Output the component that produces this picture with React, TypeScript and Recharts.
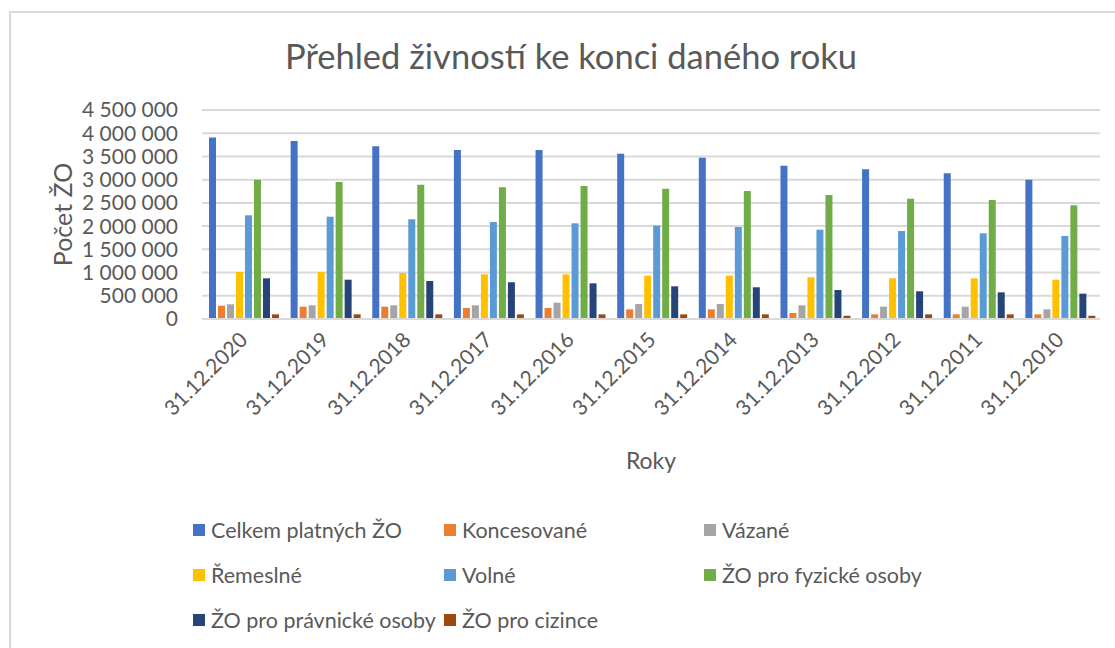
import { BarChart, Bar, XAxis, YAxis, CartesianGrid, Legend } from "recharts"

document.body.style.margin = "0"

const categories = [
  "31.12.2020", "31.12.2019", "31.12.2018", "31.12.2017", "31.12.2016", "31.12.2015",
  "31.12.2014", "31.12.2013", "31.12.2012", "31.12.2011", "31.12.2010",
]
const celkem = [3910000, 3833000, 3718000, 3639000, 3639000, 3560000, 3473000, 3301000, 3223000, 3137000, 3000000]
const koncesovane = [286000, 265000, 265000, 237000, 237000, 208000, 208000, 129000, 100000, 100000, 100000]
const vazane = [316000, 295000, 295000, 295000, 351000, 323000, 323000, 295000, 265000, 265000, 208000]
const remeslne = [1012000, 1012000, 990000, 962000, 962000, 933000, 933000, 898000, 876000, 876000, 846000]
const volne = [2233000, 2203000, 2147000, 2089000, 2060000, 2010000, 1981000, 1923000, 1895000, 1845000, 1787000]
const fyzicke = [3000000, 2950000, 2892000, 2836000, 2864000, 2806000, 2756000, 2670000, 2590000, 2562000, 2448000]
const pravnicke = [876000, 846000, 818000, 790000, 768000, 704000, 683000, 624000, 596000, 574000, 546000]
const cizinci = [100000, 100000, 100000, 100000, 100000, 100000, 100000, 70000, 100000, 100000, 70000]
const yTicks = [0, 500000, 1000000, 1500000, 2000000, 2500000, 3000000, 3500000, 4000000, 4500000]

const series = [
  { key: "celkem", name: "Celkem platných ŽO", color: "#4472C4", values: celkem },
  { key: "koncesovane", name: "Koncesované", color: "#ED7D31", values: koncesovane },
  { key: "vazane", name: "Vázané", color: "#A5A5A5", values: vazane },
  { key: "remeslne", name: "Řemeslné", color: "#FFC000", values: remeslne },
  { key: "volne", name: "Volné", color: "#5B9BD5", values: volne },
  { key: "fyzicke", name: "ŽO pro fyzické osoby", color: "#70AD47", values: fyzicke },
  { key: "pravnicke", name: "ŽO pro právnické osoby", color: "#264478", values: pravnicke },
  { key: "cizinci", name: "ŽO pro cizince", color: "#9E480E", values: cizinci },
]

const data = categories.map((name, i) => {
  const row: Record<string, string | number> = { name }
  series.forEach(s => { row[s.key] = s.values[i] })
  return row
})

const FONT = "Lato, 'Open Sans', sans-serif"
const TEXT = "#595959"

const fmt = (v: number) => String(v).replace(/\B(?=(\d{3})+(?!\d))/g, " ")

function LegendGrid() {
  const colX = [0, 251, 511]
  return (
    <div style={{ position: "relative", width: 900, height: 140, fontFamily: FONT }}>
      {series.map((s, i) => (
        <div
          key={s.key}
          style={{
            position: "absolute",
            left: colX[i % 3],
            top: Math.floor(i / 3) * 45,
            display: "flex",
            alignItems: "center",
            fontSize: 21.5,
            color: TEXT,
            whiteSpace: "nowrap",
          }}
        >
          <span style={{ width: 12, height: 12, background: s.color, marginRight: 6, display: "inline-block" }} />
          {s.name}
        </div>
      ))}
    </div>
  )
}

function XTick({ x, y, payload }: any) {
  return (
    <text
      x={x}
      y={y}
      transform={`rotate(-45 ${x} ${y})`}
      textAnchor="end"
      dominantBaseline="central"
      fill={TEXT}
      fontSize={21}
      fontFamily={FONT}
    >
      {payload.value}
    </text>
  )
}

function YLabel({ viewBox }: any) {
  const cx = viewBox.x + 62
  const cy = viewBox.y + viewBox.height / 2
  return (
    <text
      x={cx}
      y={cy}
      transform={`rotate(-90 ${cx} ${cy})`}
      textAnchor="middle"
      dominantBaseline="central"
      fill={TEXT}
      fontSize={25}
      fontFamily={FONT}
    >
      Počet ŽO
    </text>
  )
}

export default function App() {
  return (
    <div style={{ position: "relative", width: 1115, height: 648, overflow: "hidden", background: "#fff" }}>
      <div
        style={{
          position: "absolute",
          left: 9,
          top: 11,
          width: 1200,
          height: 700,
          borderTop: "2px solid #d9d9d9",
          borderLeft: "2px solid #d9d9d9",
        }}
      />
      <div
        style={{
          position: "absolute",
          top: 35,
          left: 0,
          width: 1142,
          textAlign: "center",
          fontFamily: FONT,
          fontSize: 34.5,
          color: TEXT,
        }}
      >
        Přehled živností ke konci daného roku
      </div>
      <div style={{ position: "absolute", left: 0, top: 0 }}>
        <BarChart
          width={1115}
          height={648}
          data={data}
          margin={{ top: 110, right: 15, left: 0, bottom: 169 }}
          barCategoryGap={7}
          barGap={2}
        >
          <CartesianGrid vertical={false} stroke="#d9d9d9" strokeWidth={2} />
          <XAxis
            dataKey="name"
            height={160}
            tickLine={false}
            axisLine={{ stroke: "#d9d9d9", strokeWidth: 2 }}
            tick={<XTick />}
            tickMargin={10}
            interval={0}
            label={{ value: "Roky", position: "insideBottom", offset: 10, fill: TEXT, fontSize: 23, fontFamily: FONT }}
          />
          <YAxis
            width={202}
            domain={[0, 4500000]}
            ticks={yTicks}
            interval={0}
            tickFormatter={fmt}
            tickLine={false}
            axisLine={false}
            tickMargin={18}
            tick={{ fill: TEXT, fontSize: 21, fontFamily: FONT }}
            label={<YLabel />}
          />
          <Legend
            layout="horizontal"
            verticalAlign="middle"
            align="center"
            wrapperStyle={{ top: 517, left: 193, width: 900 }}
            content={() => <LegendGrid />}
          />
          {series.map(s => (
            <Bar key={s.key} dataKey={s.key} name={s.name} fill={s.color} isAnimationActive={false} />
          ))}
        </BarChart>
      </div>
    </div>
  )
}
